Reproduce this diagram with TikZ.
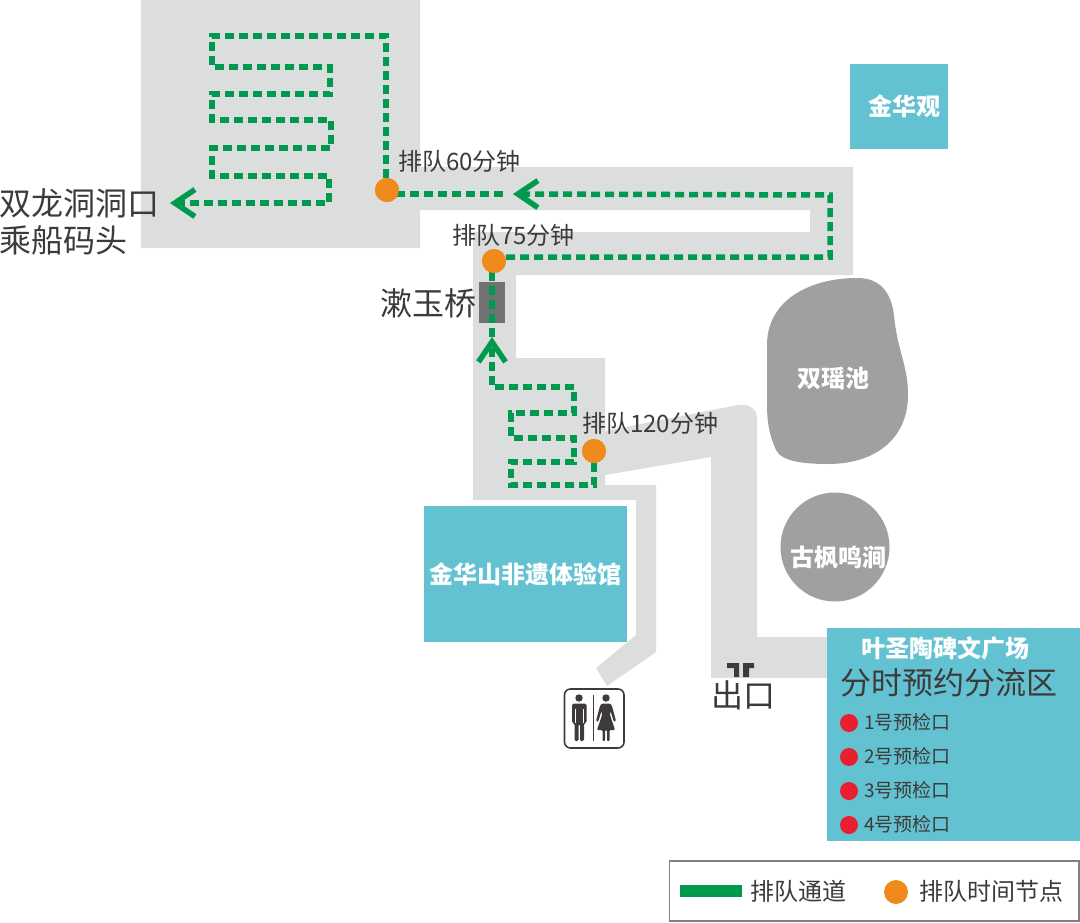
\documentclass[tikz,border=0pt]{standalone}
\usepackage{fontspec}
\setmainfont{Noto Sans CJK SC}
\usetikzlibrary{arrows.meta}
\definecolor{walkGrey}{HTML}{DCDDDD}
\definecolor{hallTeal}{HTML}{62C2D1}
\definecolor{queueGreen}{HTML}{009A4E}
\definecolor{timeOrange}{HTML}{F18A1C}
\definecolor{pondGrey}{HTML}{A0A0A0}
\definecolor{bridgeGrey}{HTML}{727272}
\definecolor{inkDark}{HTML}{3E3A39}
\definecolor{gateRed}{HTML}{E71F2E}
\newcommand{\fs}[1]{\fontsize{#1}{#1}\selectfont}

\begin{document}
\begin{tikzpicture}[
    x=1pt, y=-1pt,
    hall/.style={%
      fill=hallTeal,
      inner sep=0pt,
      font=\fs{24}\bfseries,
      text=white,
    },
    pond/.style={%
      fill=pondGrey,
      circle,
      inner sep=0pt,
    },
    whiteLabel/.style={%
      inner sep=0pt,
      font=\fs{24}\bfseries,
      text=white,
    },
    timeDot/.style={%
      circle,
      fill=timeOrange,
      minimum size=24pt,
      inner sep=0pt,
    },
    gateDot/.style={%
      circle,
      fill=gateRed,
      minimum size=18pt,
      inner sep=0pt,
    },
    queue/.style={%
      draw=queueGreen,
      line width=5.5pt,
      dash pattern=on 9pt off 5pt,
    },
    queueTip/.style={%
      -{Straight Barb[length=20pt,width=27pt,line width=5.5pt]},
    },
    label/.style={%
      inner sep=0pt,
      text=inkDark,
      font=\fs{#1},
    },
    label/.default=24,
  ]
    \useasboundingbox (0,0) rectangle (1080,922);

    % walkways
    \fill [walkGrey] (141,0) -- (420,0) -- (420,167) -- (853,167) -- (853,275)
      -- (516,275) -- (516,358) -- (605,358) -- (605,431) -- (738,405)
      .. controls (748,404) and (757,408) .. (757,418)
      -- (757,637) -- (827,637) -- (827,678) -- (711,678) -- (711,457)
      -- (605,475) -- (605,485) -- (656,485) -- (656,652) -- (607,686)
      -- (596,668) -- (636,635) -- (636,500) -- (473,500) -- (473,232)
      -- (810,232) -- (810,210) -- (420,210) -- (420,248) -- (141,248) -- cycle;

    % exit marks
    \fill [inkDark] (727,663) -- (739,663) -- (739,677) -- (734,677) -- (734,668) -- (727,668) -- cycle;
    \fill [inkDark] (743,663) -- (754,663) -- (754,668) -- (749,668) -- (749,677) -- (743,677) -- cycle;

    % ponds
    \fill [pondGrey] (857,278)
      .. controls (880,278) and (891,292) .. (894,315)
      .. controls (897,350) and (908,365) .. (908,395)
      .. controls (908,435) and (880,463) .. (830,464)
      .. controls (805,464) and (782,462) .. (776,450)
      .. controls (767,430) and (767,415) .. (767,400)
      -- (767,345)
      .. controls (767,300) and (810,278) .. (857,278) -- cycle;
    \node [whiteLabel] (twinPond) at (833,379) {双瑶池};
    \node [pond, minimum size=109pt] (mapleBrook) at (835,547) {};
    \node [whiteLabel] (mapleText) at (838,557) {古枫鸣涧};

    % buildings
    \node [hall, minimum width=98pt, minimum height=85pt] (temple) at (899,106.5) {\hspace{10pt}金华观};
    \node [hall, minimum width=203pt, minimum height=136pt] (heritage) at (525.5,574) {金华山非遗体验馆};
    \node [hall, minimum width=253pt, minimum height=213pt] (plaza) at (953.5,734.5) {};
    \fill [bridgeGrey] (479,282) rectangle (505,323);

    % time points
    \node [timeDot] (wait60) at (387,190) {};
    \node [timeDot] (wait75) at (494,261) {};
    \node [timeDot] (wait120) at (594,451) {};
    \coordinate (tipBridge) at (492,337);
    \coordinate (tipHall) at (513,194);
    \coordinate (tipPier) at (170,203);
    \coordinate (tailHall) at (503,194);

    % queue line
    \draw [queue, queueTip] (wait120) -- (594,485) -- (511,485) -- (511,462) -- (574,462)
      -- (574,438) -- (511,438) -- (511,413) -- (574,413) -- (574,387) -- (492,387) -- (tipBridge);
    \draw [queue] (tipBridge) -- (tipBridge |- wait75);
    \draw [queue, queueTip] (506,257) -- (830,257) -- (830,195) -- (tipHall);
    \draw [queue] (tailHall) -- (wait60 |- tailHall);
    \draw [queue, queueTip] (386,178) -- (386,36) -- (212,36) -- (212,67) -- (330,67) -- (330,94)
      -- (212,94) -- (212,120) -- (331,120) -- (331,148) -- (212,148) -- (212,176)
      -- (329,176) -- (329,203) -- (tipPier);
    \node [timeDot] at (wait60) {};
    \node [timeDot] at (wait75) {};
    \node [timeDot] at (wait120) {};

    % map labels
    \node [label, anchor=west] (text60) at (398,161) {排队60分钟};
    \node [label, anchor=west] (text75) at (452,235) {排队75分钟};
    \node [label, anchor=west] (text120) at (582,423) {排队120分钟};
    \node [label=32, anchor=west] (pierA) at (-1,203) {双龙洞洞口};
    \node [label=32, anchor=west] (pierB) at (-1,240) {乘船码头};
    \node [label=32, anchor=west] (bridge) at (380,303) {漱玉桥};
    \node [label=32, anchor=west] (exit) at (711,695) {出口};

    % toilets
    \draw [inkDark, line width=1.6pt, rounded corners=6pt] (564.5,689) rectangle (624,748);
    \draw [inkDark, line width=1pt] (593,695) -- (593,741);
    \fill [inkDark] (579,698) circle (3.7);
    \fill [inkDark, rounded corners=1.5pt] (572,703.5) -- (586.5,703.5) -- (586.5,723) -- (584,723)
      -- (584,741) -- (580,741) -- (580,724) -- (578.5,724) -- (578.5,741) -- (574.5,741)
      -- (574.5,723) -- (572,723) -- cycle;
    \draw [white, line width=0.6pt] (575,709) -- (575,723) (583.5,709) -- (583.5,723);
    \fill [inkDark] (606,698) circle (3.7);
    \fill [inkDark, rounded corners=1pt] (602,703.5) -- (610,703.5) -- (612,706) -- (616,721) -- (614,722)
      -- (610.5,711) -- (610,715) -- (615,730) -- (609.5,730) -- (609.5,741) -- (607,741) -- (607,730)
      -- (605,730) -- (605,741) -- (602.5,741) -- (602.5,730) -- (597,730) -- (602,715) -- (601.5,711)
      -- (598,722) -- (596,721) -- (600,706) -- cycle;

    % plaza panel
    \node [whiteLabel] (plazaName) at (945.5,648) {叶圣陶碑文广场};
    \node [label=31, anchor=west] (plazaZone) at (840,683) {分时预约分流区};
    \node [gateDot] (gate1) at (849,723) {};
    \node [gateDot] (gate2) at (849,757) {};
    \node [gateDot] (gate3) at (849,791) {};
    \node [gateDot] (gate4) at (849,825) {};
    \node [label=19, anchor=west] (gateText1) at (864,722) {1号预检口};
    \node [label=19, anchor=west] (gateText2) at (864,756) {2号预检口};
    \node [label=19, anchor=west] (gateText3) at (864,790) {3号预检口};
    \node [label=19, anchor=west] (gateText4) at (864,824) {4号预检口};

    % legend
    \draw [gray, line width=1.5pt] (669.5,861) rectangle (1079,921);
    \fill [queueGreen] (680,885) rectangle (742,897);
    \node [timeDot] (keyDot) at (896,892) {};
    \node [label, anchor=west] (keyLine) at (750,891) {排队通道};
    \node [label, anchor=west] (keyTime) at (919,891) {排队时间节点};
\end{tikzpicture}
\end{document}
